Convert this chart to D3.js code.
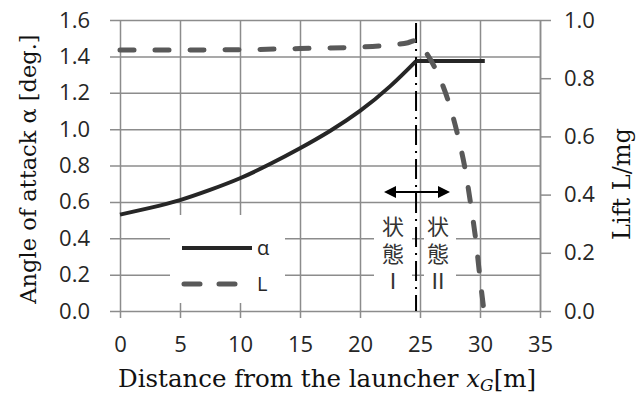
<!DOCTYPE html>
<html lang="ja">
<head>
<meta charset="UTF-8" />
<title>Angle of attack / Lift</title>
<style>
  body { margin: 0; background: #fff; }
  .tick text { font-family: "Open Sans", sans-serif; font-size: 22px; fill: #262626; }
  .serif { font-family: "DejaVu Serif", serif; fill: #111; }
  .cjk { font-family: "Noto Sans CJK JP", sans-serif; font-size: 22px; fill: #333;
         writing-mode: vertical-rl; letter-spacing: 5px; }
</style>
</head>
<body>
<div class="chart"></div>
<script src="https://d3js.org/d3.v7.min.js"></script>
<script>
// 迎角 α [deg.]（左軸）
const alphaX   = [0, 2.5, 5, 7.5, 10, 12.5, 15, 17.5, 20, 22.5, 24.67, 30.4];
const alphaVal = [0.53, 0.567, 0.61, 0.666, 0.73, 0.808, 0.895, 0.99, 1.10, 1.235, 1.374, 1.374];

// 揚力 L/mg（右軸）
const liftX   = [0, 5, 10, 15, 20, 22.5, 24, 24.67, 25.2, 26.25, 27.33, 28.17, 28.75, 29.25, 29.67, 30, 30.33];
const liftVal = [0.897, 0.897, 0.898, 0.902, 0.907, 0.914, 0.922, 0.93, 0.905, 0.835, 0.725, 0.6, 0.49, 0.36, 0.237, 0.113, 0];

// 目盛
const xTicks      = [0, 5, 10, 15, 20, 25, 30, 35];
const yLeftTicks  = [0, 0.2, 0.4, 0.6, 0.8, 1.0, 1.2, 1.4, 1.6];
const yRightTicks = [0, 0.2, 0.4, 0.6, 0.8, 1.0];

// 状態 I / II の境界
const switchX = 24.67;

const width = 639, height = 394;
const gridColor = '#8c8c8c';

const svg = d3.select('.chart')
  .append('svg')
  .attr('width', width)
  .attr('height', height);

const x  = d3.scaleLinear().domain([0, 35]).range([120, 540]);
const yL = d3.scaleLinear().domain([0, 1.6]).range([311, 20]);
const yR = d3.scaleLinear().domain([0, 1.0]).range([311, 20]);

// 横グリッド + 左軸ラベル
const gridY = svg.append('g')
  .attr('transform', `translate(${x(35)},0)`)
  .call(d3.axisLeft(yL).tickValues(yLeftTicks)
    .tickSize(x(35) - x(0) + 10).tickPadding(20)
    .tickFormat(d3.format('.1f')));
gridY.select('.domain').remove();
gridY.selectAll('line').attr('stroke', gridColor).attr('stroke-width', 1.5);

// 縦グリッド + 下軸ラベル
const gridX = svg.append('g')
  .attr('transform', `translate(0,${yL(1.6)})`)
  .call(d3.axisBottom(x).tickValues(xTicks)
    .tickSize(yL(0) - yL(1.6) + 7).tickPadding(18)
    .tickFormat(d3.format('d')));
gridX.select('.domain').remove();
gridX.selectAll('line').attr('stroke', gridColor).attr('stroke-width', 1.5);

// 右軸
const axisR = svg.append('g')
  .attr('transform', `translate(${x(35)},0)`)
  .call(d3.axisRight(yR).tickValues(yRightTicks)
    .tickSize(11).tickSizeOuter(0).tickPadding(13)
    .tickFormat(d3.format('.1f')));
axisR.select('.domain').attr('stroke', gridColor).attr('stroke-width', 1.5);
axisR.selectAll('line').attr('stroke', gridColor).attr('stroke-width', 1.5);

// 白い背景の枠（凡例・注記）
svg.append('rect')
  .attr('x', 170).attr('y', 215).attr('width', 115).attr('height', 88)
  .attr('fill', '#fff');
svg.append('rect')
  .attr('x', 374).attr('y', 206).attr('width', 38).attr('height', 92)
  .attr('fill', '#fff');
svg.append('rect')
  .attr('x', 424).attr('y', 206).attr('width', 32).attr('height', 92)
  .attr('fill', '#fff');

// 境界の一点鎖線
svg.append('line')
  .attr('x1', x(switchX)).attr('x2', x(switchX))
  .attr('y1', yL(1.6) + 3).attr('y2', yL(0))
  .attr('stroke', '#000')
  .attr('stroke-width', 2)
  .attr('stroke-dasharray', '20 6 2 6');

// α（増加部は曲線、境界以降は水平）
const alphaData = alphaX.map((d, i) => [d, alphaVal[i]]);
const kink = alphaX.indexOf(switchX);
const alphaLine = d3.line().x(d => x(d[0])).y(d => yL(d[1]));
svg.append('path')
  .datum(alphaData.slice(0, kink + 1))
  .attr('fill', 'none')
  .attr('stroke', '#262626')
  .attr('stroke-width', 4)
  .attr('d', alphaLine.curve(d3.curveNatural));
svg.append('path')
  .datum(alphaData.slice(kink))
  .attr('fill', 'none')
  .attr('stroke', '#262626')
  .attr('stroke-width', 4)
  .attr('d', alphaLine.curve(d3.curveLinear));

// L
const liftData = liftX.map((d, i) => [d, liftVal[i]]);
svg.append('path')
  .datum(liftData)
  .attr('fill', 'none')
  .attr('stroke', '#595959')
  .attr('stroke-width', 5)
  .attr('stroke-linecap', 'round')
  .attr('stroke-dasharray', '14 21')
  .attr('d', d3.line().x(d => x(d[0])).y(d => yR(d[1])).curve(d3.curveMonotoneX));

// 両矢印
const arrowY = 192, ax0 = x(22.0), ax1 = x(27.5);
svg.append('line')
  .attr('x1', ax0 + 6).attr('x2', ax1 - 6)
  .attr('y1', arrowY).attr('y2', arrowY)
  .attr('stroke', '#000').attr('stroke-width', 2);
svg.append('polygon')
  .attr('points', `${ax0},${arrowY} ${ax0 + 12},${arrowY - 6} ${ax0 + 12},${arrowY + 6}`)
  .attr('fill', '#000');
svg.append('polygon')
  .attr('points', `${ax1},${arrowY} ${ax1 - 12},${arrowY - 6} ${ax1 - 12},${arrowY + 6}`)
  .attr('fill', '#000');

// 状態 I / II（縦書き）
const stateLabels = [
  { cx: x(22.75), text: '状態Ⅰ' },
  { cx: x(26.5),  text: '状態Ⅱ' }
];
stateLabels.forEach(s => {
  svg.append('text')
    .attr('class', 'cjk')
    .attr('x', s.cx)
    .attr('y', 216)
    .text(s.text);
});

// 凡例
svg.append('line')
  .attr('x1', 182).attr('x2', 252).attr('y1', 248).attr('y2', 248)
  .attr('stroke', '#262626').attr('stroke-width', 4);
svg.append('text')
  .attr('x', 257).attr('y', 248).attr('dy', '0.36em')
  .style('font-family', '"Open Sans", sans-serif').style('font-size', '20px')
  .attr('fill', '#262626')
  .text('α');
svg.append('line')
  .attr('x1', 184).attr('x2', 237).attr('y1', 284).attr('y2', 284)
  .attr('stroke', '#595959').attr('stroke-width', 5)
  .attr('stroke-linecap', 'round').attr('stroke-dasharray', '16 19');
svg.append('text')
  .attr('x', 257).attr('y', 284).attr('dy', '0.36em')
  .style('font-family', '"Open Sans", sans-serif').style('font-size', '20px')
  .attr('fill', '#262626')
  .text('L');

// 軸タイトル
svg.append('text')
  .attr('class', 'serif')
  .attr('transform', 'translate(36,169) rotate(-90)')
  .attr('text-anchor', 'middle')
  .style('font-size', '22.5px')
  .text('Angle of attack  α [deg.]');

svg.append('text')
  .attr('class', 'serif')
  .attr('transform', 'translate(630,184) rotate(-90)')
  .attr('text-anchor', 'middle')
  .style('font-size', '24px')
  .text('Lift  L/mg');

const xTitle = svg.append('text')
  .attr('class', 'serif')
  .attr('x', 118).attr('y', 387)
  .style('font-size', '24.5px');
xTitle.append('tspan').text('Distance from the launcher ');
xTitle.append('tspan').style('font-style', 'italic').text('x');
xTitle.append('tspan').style('font-style', 'italic').style('font-size', '17px')
  .attr('dy', 4).text('G');
xTitle.append('tspan').attr('dy', -4).text('[m]');
</script>
</body>
</html>
